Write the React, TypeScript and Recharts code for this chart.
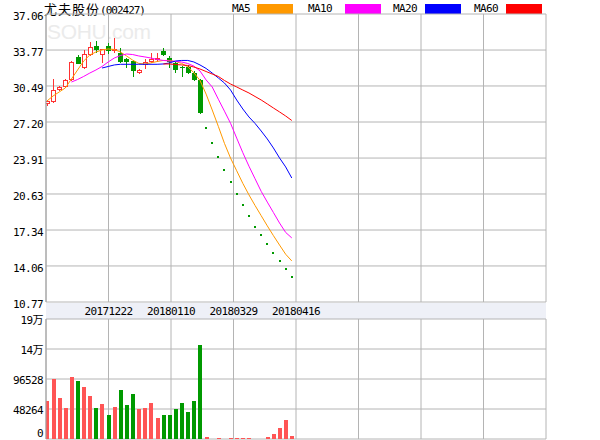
import React from 'react';
import { ComposedChart, Bar, Line, Scatter, XAxis, YAxis, CartesianGrid } from 'recharts';

// 尤夫股份 daily K-line, oldest first. The last 15 sessions traded at a single price.
const opens = [
  28.87, 29.0, 30.1, 30.37, 31.0, 33.09, 32.1, 33.29, 34.17, 33.32, 34.14, 33.68, 33.47, 32.95, 32.8, 31.7,
  32.41, 32.65, 32.86, 33.68, 33.07, 32.56, 32.25, 32.25, 31.65, 31.04,
  26.63, 25.26, 23.98, 22.79, 21.7, 20.61, 19.6, 18.6, 17.65, 16.86, 16.04, 15.22, 14.49, 13.76, 13.03,
];
const highs = [
  29.2, 31.1, 30.49, 31.1, 32.75, 33.32, 33.77, 34.53, 34.62, 33.9, 34.38, 34.84, 33.93, 33.0, 32.9, 32.0,
  32.93, 33.47, 33.5, 33.93, 33.2, 32.7, 32.3, 32.4, 31.9, 31.1,
  26.63, 25.26, 23.98, 22.79, 21.7, 20.61, 19.6, 18.6, 17.65, 16.86, 16.04, 15.22, 14.49, 13.76, 13.03,
];
const lows = [
  28.65, 28.95, 30.05, 30.3, 30.95, 32.5, 32.05, 33.2, 33.53, 32.62, 33.4, 33.5, 32.6, 32.1, 31.34, 31.6,
  32.01, 32.6, 32.7, 33.2, 32.1, 31.65, 31.31, 31.58, 30.95, 27.93,
  26.63, 25.26, 23.98, 22.79, 21.7, 20.61, 19.6, 18.6, 17.65, 16.86, 16.04, 15.22, 14.49, 13.76, 13.03,
];
const closes = [
  29.12, 30.12, 30.37, 31.04, 32.68, 32.54, 33.38, 34.02, 33.77, 33.84, 33.68, 33.84, 32.71, 32.71, 31.88, 31.95,
  32.65, 32.95, 33.07, 33.32, 32.71, 31.95, 32.2, 31.7, 31.04, 28.05,
  26.63, 25.26, 23.98, 22.79, 21.7, 20.61, 19.6, 18.6, 17.65, 16.86, 16.04, 15.22, 14.49, 13.76, 13.03,
];
const volumes = [
  60600, 97100, 66500, 50400, 100300, 93800, 84200, 69700, 50400, 56800, 39100, 52000, 79400, 55200, 72900, 48800,
  50400, 58500, 34300, 39100, 39100, 48800, 58500, 44000, 61700, 151800,
  2500, 0, 2000, 0, 2000, 2200, 2000, 2000, 0, 0, 4000, 7500, 17000, 31000, 4500,
];

const ma5 = [
  29.12, 29.58, 29.94, 30.31, 31.13, 31.95, 32.77, 33.32, 33.59, 33.77, 33.87, 33.82, 33.59, 33.23, 32.85, 32.55,
  32.5, 32.6, 32.72, 32.82, 32.82, 32.72, 32.55, 32.25, 31.7, 31.0,
  29.75, 28.3, 26.8, 25.25, 23.9, 22.75, 21.6, 20.55, 19.58, 18.65, 17.72, 16.83, 15.97, 15.13, 14.52,
];
const ma10 = [
  null, null, null, null, 30.85, 31.08, 31.36, 31.67, 31.95, 32.27, 32.68, 33.04, 33.27, 33.41, 33.36, 33.23,
  33.14, 33.04, 32.91, 32.82, 32.77, 32.73, 32.68, 32.54, 32.31, 31.86,
  31.04, 30.4, 29.28, 28.19, 27.08, 25.73, 24.4, 23.17, 22.02, 20.87, 19.89, 18.94, 17.98, 17.12, 16.62,
];
const ma20 = [
  null, null, null, null, null, null, null, null, null, 32.13, 32.27, 32.41, 32.47, 32.47, 32.47, 32.47,
  32.47, 32.47, 32.47, 32.5, 32.59, 32.77, 32.82, 32.82, 32.68, 32.41,
  32.09, 31.67, 31.22, 30.76, 30.12, 29.21, 28.39, 27.66, 27.07, 26.38, 25.65, 24.83, 23.92, 23.1, 22.09,
];
const ma60 = [
  null, null, null, null, null, null, null, null, null, null, null, null, null, null, null, null,
  null, null, null, 32.5, 32.5, 32.45, 32.41, 32.36, 32.22, 32.04,
  31.81, 31.58, 31.36, 30.99, 30.67, 30.4, 30.12, 29.85, 29.53, 29.21, 28.85, 28.48, 28.12, 27.75, 27.34,
];

const priceTicks = [10.77, 14.06, 17.34, 20.63, 23.91, 27.2, 30.49, 33.77, 37.06];
const volumeTicks = [0, 48264, 96528, 144792, 193056];
const volumeTickLabels = ['0', '48264', '96528', '14万', '19万'];
const dateLabels = ['', '20171222', '20180110', '20180329', '20180416', '', '', '', ''];

const maSeries = [
  { key: 'ma5', name: 'MA5', color: '#ff9900' },
  { key: 'ma10', name: 'MA10', color: '#ff00ff' },
  { key: 'ma20', name: 'MA20', color: '#0000ff' },
  { key: 'ma60', name: 'MA60', color: '#ff0000' },
];

const RED = '#ff3232';
const VOL_RED = '#ff5555';
const GREEN = '#009900';
const GRID = '#b4b4b4';
const MONO = "'DejaVu Sans Mono', 'Noto Sans CJK SC', monospace";

// x runs in trading-day slots; the frame holds ~81.7 slots split in 8 grid columns
const XMIN = -0.16;
const XMAX = 81.54;
const xTicks = dateLabels.map((_, k) => XMIN + (k * (XMAX - XMIN)) / 8);

const data = closes.map((close, i) => ({
  idx: i,
  open: opens[i],
  high: highs[i],
  low: lows[i],
  close,
  prevClose: i > 0 ? closes[i - 1] : close,
  vol: volumes[i],
  ma5: ma5[i],
  ma10: ma10[i],
  ma20: ma20[i],
  ma60: ma60[i],
}));
const flatDays = data.filter(d => d.high === d.low);

const Candle = (props: any) => {
  const { x, y, width, height, payload } = props;
  if (!payload || payload.high === payload.low) return null;
  const { open, close, high, low } = payload;
  const top = Math.min(y, y + height);
  const h = Math.abs(height);
  const k = h / (high - low);
  const bodyTop = Math.round(top + (high - Math.max(open, close)) * k);
  const bodyBot = Math.max(bodyTop + 1, Math.round(top + (high - Math.min(open, close)) * k));
  const c = Math.round(x + width / 2 - 0.5);
  const wickTop = Math.round(top);
  const wickBot = Math.round(top + h);
  const up = close >= open;
  const color = up ? RED : GREEN;
  return (
    <g>
      <line x1={c + 0.5} x2={c + 0.5} y1={wickTop} y2={bodyTop} stroke={color} />
      <line x1={c + 0.5} x2={c + 0.5} y1={bodyBot} y2={wickBot} stroke={color} />
      {up ? (
        <rect x={c - 1.5} y={bodyTop + 0.5} width={4} height={Math.max(1, bodyBot - bodyTop - 1)} fill="#fff" stroke={color} />
      ) : (
        <rect x={c - 2} y={bodyTop} width={5} height={bodyBot - bodyTop} fill={color} />
      )}
    </g>
  );
};

const FlatDot = (props: any) => {
  const { cx, cy, payload } = props;
  const color = payload.close < payload.prevClose ? GREEN : RED;
  return <rect x={Math.round(cx) - 1} y={Math.round(cy) - 1} width={2} height={2} fill={color} />;
};

const VolumeBar = (props: any) => {
  const { x, y, width, height, payload } = props;
  if (!payload || payload.vol <= 0) return null;
  const color = payload.close >= payload.open ? VOL_RED : GREEN;
  const bottom = Math.round(y + height);
  const h = Math.max(1, Math.round(height));
  const c = Math.round(x + width / 2 - 0.5);
  return <rect x={c - 1} y={bottom - h} width={4} height={h} fill={color} />;
};

const PriceTick = ({ x, y, payload }: any) => (
  <text x={x} y={y + 6} textAnchor="end" fontFamily={MONO} fontSize={11} letterSpacing={-0.6} fill="#000">
    {Number(payload.value).toFixed(2)}
  </text>
);

const VolumeTick = ({ x, y, payload }: any) => {
  const i = volumeTicks.indexOf(payload.value);
  return (
    <text x={x} y={payload.value === 0 ? y - 2 : y + 5} textAnchor="end" fontFamily={MONO} fontSize={11} letterSpacing={-0.6} fill="#000">
      {volumeTickLabels[i] ?? ''}
    </text>
  );
};

const DateTick = ({ x, y, index }: any) => (
  <text x={x} y={y + 13} textAnchor="middle" fontFamily={MONO} fontSize={11} letterSpacing={-0.6} fill="#000">
    {dateLabels[index] ?? ''}
  </text>
);

export default function App() {
  return (
    <div style={{ position: 'absolute', left: 0, top: 0, width: 600, height: 440, background: '#fff', overflow: 'hidden' }}>
      {/* watermark */}
      <div style={{ position: 'absolute', left: 47, top: 20, fontFamily: "'Liberation Sans', Arial, sans-serif", fontSize: 21, letterSpacing: -0.3, color: '#ebebeb', lineHeight: '24px' }}>
        SOHU.com
      </div>

      {/* title */}
      <div style={{ position: 'absolute', left: 44, top: 1, height: 15, whiteSpace: 'nowrap', lineHeight: '15px' }}>
        <span style={{ fontFamily: "'Noto Sans CJK SC', sans-serif", fontSize: 13, letterSpacing: 1 }}>尤夫股份</span>
        <span style={{ fontFamily: MONO, fontSize: 11, letterSpacing: -1 }}>(002427)</span>
      </div>

      {/* legend */}
      {maSeries.map((s, i) => (
        <div key={s.key} style={{ position: 'absolute', left: [232, 308, 393, 474][i], top: 3, height: 11, display: 'flex', alignItems: 'center' }}>
          <span style={{ fontFamily: MONO, fontSize: 11, letterSpacing: -0.6, lineHeight: '11px', width: [25, 37, 32, 32][i] }}>{s.name}</span>
          <span style={{ display: 'inline-block', width: 36, height: 10, background: s.color }} />
        </div>
      ))}

      {/* date band */}
      <div style={{ position: 'absolute', left: 46, top: 303, width: 500, height: 16, background: '#eef0f7' }} />

      <div style={{ position: 'absolute', left: 0, top: 0 }}>
        <ComposedChart width={600} height={318} data={data} margin={{ top: 14, right: 54, bottom: 0, left: 0 }}>
          <CartesianGrid stroke={GRID} />
          <XAxis
            dataKey="idx"
            type="number"
            domain={[XMIN, XMAX]}
            ticks={xTicks}
            interval={0}
            allowDataOverflow
            height={16}
            axisLine={false}
            tickLine={false}
            tickSize={0}
            tickMargin={0}
            tick={<DateTick />}
          />
          <YAxis
            type="number"
            domain={[10.77, 37.06]}
            ticks={priceTicks}
            interval={0}
            allowDataOverflow
            width={46}
            axisLine={{ stroke: '#a0a0a0' }}
            tickLine={false}
            tickSize={0}
            tickMargin={3}
            tick={<PriceTick />}
          />
          <Bar dataKey={(d: any) => [d.low, d.high]} barSize={5} shape={<Candle />} isAnimationActive={false} />
          <Scatter data={flatDays} dataKey="close" shape={<FlatDot />} isAnimationActive={false} />
          {maSeries.map(s => (
            <Line
              key={s.key}
              dataKey={s.key}
              type="linear"
              stroke={s.color}
              strokeWidth={1}
              dot={false}
              activeDot={false}
              isAnimationActive={false}
            />
          ))}
        </ComposedChart>
      </div>

      <div style={{ position: 'absolute', left: 0, top: 308 }}>
        <ComposedChart width={600} height={132} data={data} margin={{ top: 11, right: 54, bottom: 1, left: 0 }}>
          <CartesianGrid stroke={GRID} />
          <XAxis dataKey="idx" type="number" domain={[XMIN, XMAX]} ticks={xTicks} interval={0} allowDataOverflow hide />
          <YAxis
            type="number"
            domain={[0, 193056]}
            ticks={volumeTicks}
            interval={0}
            allowDataOverflow
            width={46}
            axisLine={{ stroke: '#a0a0a0' }}
            tickLine={false}
            tickSize={0}
            tickMargin={3}
            tick={<VolumeTick />}
          />
          <Bar dataKey="vol" barSize={4} shape={<VolumeBar />} isAnimationActive={false} />
        </ComposedChart>
      </div>
    </div>
  );
}
